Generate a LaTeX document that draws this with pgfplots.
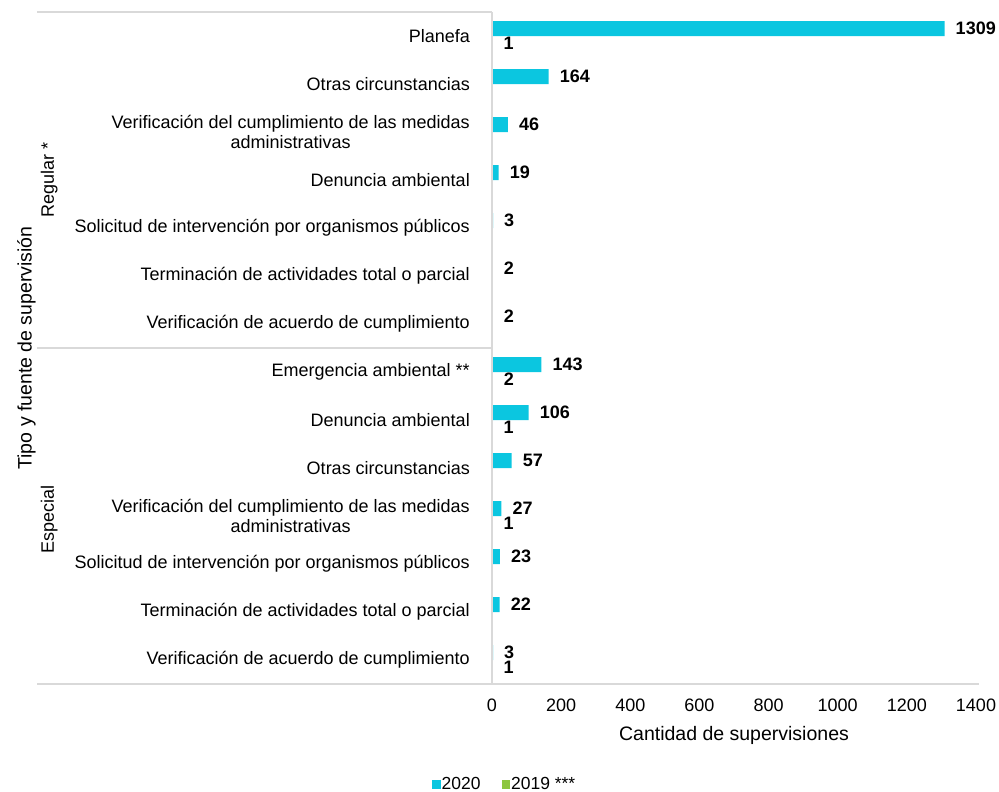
\documentclass[border=0pt]{standalone}
\usepackage{pgfplots}
\pgfplotsset{compat=1.18}
\usepackage{pgfplotstable}
\usepackage{fontspec}
\setmainfont{Liberation Sans}
\newcommand\fs{\fontsize{18bp}{20bp}\selectfont}
\newcommand\fl{\fontsize{17.5bp}{20bp}\selectfont}
\newcommand\ft{\fontsize{19.5bp}{22bp}\selectfont}
\definecolor{c2020}{RGB}{11,198,224}
\definecolor{c2019}{RGB}{141,198,63}
\definecolor{axgray}{RGB}{217,217,217}
\pgfplotstableread{
y v
-0.15625 1309
0.84375 164
1.84375 46
2.84375 19
3.84375 3
4.84375 2
5.84375 2
6.84375 143
7.84375 106
8.84375 57
9.84375 27
10.84375 23
11.84375 22
12.84375 3
}\tA
\pgfplotstableread{
y v
0.15625 1
7.15625 2
8.15625 1
10.15625 1
13.15625 1
}\tB
\begin{document}
\begin{tikzpicture}
\begin{axis}[
  at={(492bp,-684bp)}, anchor=south west,
  width=484bp, height=672bp, scale only axis,
  xmin=0, xmax=1400, ymin=-0.5, ymax=13.5, y dir=reverse,
  xbar, bar width=15bp, bar shift=0pt,
  axis line style={draw=none},
  major tick length=0pt,
  xtick={0,200,...,1400},
  ytick={0,...,13},
  yticklabels={{Planefa},{Otras circunstancias},{Verificación del cumplimiento de las medidas\\administrativas},{Denuncia ambiental},{Solicitud de intervención por organismos públicos},{Terminación de actividades total o parcial},{Verificación de acuerdo de cumplimiento},{Emergencia ambiental **},{Denuncia ambiental},{Otras circunstancias},{Verificación del cumplimiento de las medidas\\administrativas},{Solicitud de intervención por organismos públicos},{Terminación de actividades total o parcial},{Verificación de acuerdo de cumplimiento}},
  yticklabel style={font=\fs, align=center, anchor=east, inner sep=0pt, xshift=-22bp},
  xticklabel style={font=\fs, inner sep=0pt, yshift=-14.5bp},
  /pgf/number format/assume math mode=true,
  /pgf/number format/set thousands separator={},
  xlabel={Cantidad de supervisiones},
  xlabel style={font=\ft, at={(axis description cs:0.5,-0.0759)}, anchor=center},
  ylabel={Tipo y fuente de supervisión},
  ylabel style={font=\ft, at={(axis description cs:-0.962,0.5)}, anchor=center},
  clip=false,
  point meta=x,
  nodes near coords,
  nodes near coords style={font=\fs\bfseries, anchor=west, inner sep=0pt, xshift=11bp},
  legend columns=2,
  legend style={draw=none, fill=none, font=\fl, inner sep=0pt,
    at={(axis description cs:-0.124,-0.149)}, anchor=west,
    nodes={inner sep=1bp},
    /tikz/every even column/.append style={column sep=20bp}},
  legend image code/.code={\fill[#1] (0bp,-4.5bp) rectangle (8.5bp,4.5bp);},
]
\addplot[draw=none, fill=c2020] table[x=v, y=y] {\tA};
\addlegendentry{2020}
\addplot[draw=none, fill=c2019] table[x=v, y=y] {\tB};
\addlegendentry{2019 ***}
\draw[axgray, line width=1.3bp] (axis description cs:-0.940,1) -- (axis description cs:0,1);
\draw[axgray, line width=1.3bp] (axis description cs:-0.940,0.5) -- (axis description cs:0,0.5);
\draw[axgray, line width=1.3bp] (axis description cs:-0.940,0) -- (axis description cs:1.006,0);
\draw[axgray, line width=1.3bp] (axis description cs:0,0) -- (axis description cs:0,1);
\node[font=\fs, rotate=90, anchor=center] at (axis description cs:-0.915,0.75) {Regular *};
\node[font=\fs, rotate=90, anchor=center] at (axis description cs:-0.915,0.245) {Especial};
\end{axis}
\pgfresetboundingbox
\useasboundingbox (0,0) rectangle (999bp,-792bp);
\end{tikzpicture}
\end{document}
